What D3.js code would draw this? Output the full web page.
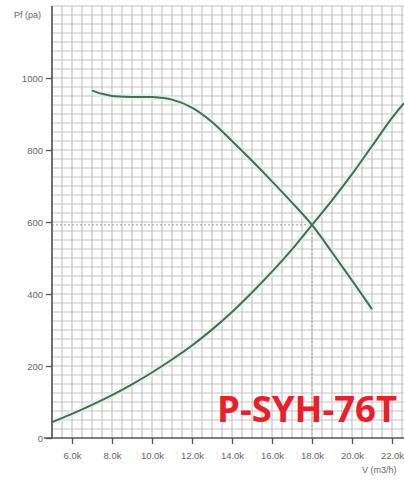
<!DOCTYPE html>
<html>
<head>
<meta charset="utf-8">
<script src="https://cdn.jsdelivr.net/npm/d3@7"></script>
<style>
html,body{margin:0;padding:0;background:#fff;}
svg{display:block;}
</style>
</head>
<body>
<svg id="chart" width="404" height="481"></svg>
<script>
// Fan curve (static pressure vs airflow), V in thousands m3/h, P in Pa
const fanV = [7.0, 7.5, 8.0, 9.0, 10.0, 11.0, 12.0, 13.0, 14.0, 15.0, 16.0, 17.0, 18.0, 19.0, 20.0, 21.0];
const fanP = [965, 956, 950, 947, 947, 940, 918, 878, 825, 770, 713, 654, 592, 516, 438, 358];
// System resistance curve
const sysV = [5.0, 6.0, 7.0, 8.0, 9.0, 10.0, 11.0, 12.0, 13.0, 14.0, 15.0, 16.0, 17.0, 18.0, 19.0, 20.0, 21.0, 22.0, 22.6];
const sysP = [44, 67, 92, 119, 149, 182, 218, 257, 301, 350, 404, 462, 524, 592, 660, 733, 811, 889, 930];
// Operating point
const opV = 18.0, opP = 592;
// Tick labels
const xTicks = [6, 8, 10, 12, 14, 16, 18, 20, 22];
const yTicks = [0, 200, 400, 600, 800, 1000];
const yTitle = "Pf (pa)";
const xTitle = "V (m3/h)";
const modelName = "P-SYH-76T";

const svg = d3.select("#chart");
const x = d3.scaleLinear().domain([5, 22.6]).range([52, 404]);
const y = d3.scaleLinear().domain([0, 1200]).range([438, 6]);

// grid
const grid = svg.append("g");
const gx = d3.range(5, 22.6, 0.5);
const gy = d3.range(25, 1201, 25);
grid.selectAll("line.gx").data(gx).join("line")
  .attr("x1", d => x(d)).attr("x2", d => x(d))
  .attr("y1", y(1200)).attr("y2", y(0))
  .attr("stroke", "#c4c4c4").attr("stroke-width", 1.2);
grid.selectAll("line.gy").data(gy).join("line")
  .attr("x1", x(5)).attr("x2", 404)
  .attr("y1", d => y(d)).attr("y2", d => y(d))
  .attr("stroke", "#c4c4c4").attr("stroke-width", 1.2);

// reference dotted lines
svg.append("line")
  .attr("x1", x(5)).attr("x2", x(opV)).attr("y1", y(opP)).attr("y2", y(opP))
  .attr("stroke", "#9a9a9a").attr("stroke-width", 1).attr("stroke-dasharray", "2,2");
svg.append("line")
  .attr("x1", x(opV)).attr("x2", x(opV)).attr("y1", y(opP)).attr("y2", y(0))
  .attr("stroke", "#b89a9a").attr("stroke-width", 1).attr("stroke-dasharray", "2,2");

// curves
const line = d3.line().x(d => x(d[0])).y(d => y(d[1])).curve(d3.curveCatmullRom.alpha(0.5));
const fan = fanV.map((v, i) => [v, fanP[i]]);
const sys = sysV.map((v, i) => [v, sysP[i]]);
[fan, sys].forEach(data => {
  svg.append("path").datum(data).attr("d", line)
    .attr("fill", "none").attr("stroke", "#dff2e6").attr("stroke-width", 7).attr("stroke-opacity", 0.7);
});
[fan, sys].forEach(data => {
  svg.append("path").datum(data).attr("d", line)
    .attr("fill", "none").attr("stroke", "#4a6b5b").attr("stroke-width", 2);
});

// axes
const yAxis = svg.append("g").attr("transform", `translate(${x(5)},0)`)
  .call(d3.axisLeft(y).tickValues(yTicks).tickSize(6).tickSizeOuter(0).tickFormat(d3.format("d")));
yAxis.select(".domain").remove();
svg.append("line").attr("x1", x(5)).attr("x2", x(5)).attr("y1", y(1200)).attr("y2", y(0))
  .attr("stroke", "#555").attr("stroke-width", 1.6);

const xAxis = svg.append("g").attr("transform", `translate(0,${y(0)})`)
  .call(d3.axisBottom(x).tickValues(xTicks).tickSize(6).tickSizeOuter(0).tickFormat(d => d.toFixed(1) + "k"));
xAxis.select(".domain").remove();
svg.append("line").attr("x1", 44).attr("x2", 404).attr("y1", y(0)).attr("y2", y(0))
  .attr("stroke", "#555").attr("stroke-width", 1.6);

svg.selectAll(".tick line").attr("stroke", "#555").attr("stroke-width", 1.3);
svg.selectAll(".tick text").attr("fill", "#666").attr("font-family", "Liberation Sans, Arial, sans-serif").attr("font-size", 9.5);
yAxis.selectAll(".tick text").attr("x", -9);
xAxis.selectAll(".tick text").attr("y", 14);

// titles
svg.append("text").attr("x", 14).attr("y", 18).text(yTitle)
  .attr("fill", "#666").attr("font-family", "Liberation Sans, Arial, sans-serif").attr("font-size", 9);
svg.append("text").attr("x", 362).attr("y", 473).text(xTitle)
  .attr("fill", "#666").attr("font-family", "Liberation Sans, Arial, sans-serif").attr("font-size", 9);

// model name
svg.append("text").attr("x", 217).attr("y", 422).text(modelName)
  .attr("fill", "#e8202a").attr("font-family", "Open Sans, Noto Sans, sans-serif")
  .attr("font-weight", "bold").attr("font-size", 36.5);
</script>
</body>
</html>
